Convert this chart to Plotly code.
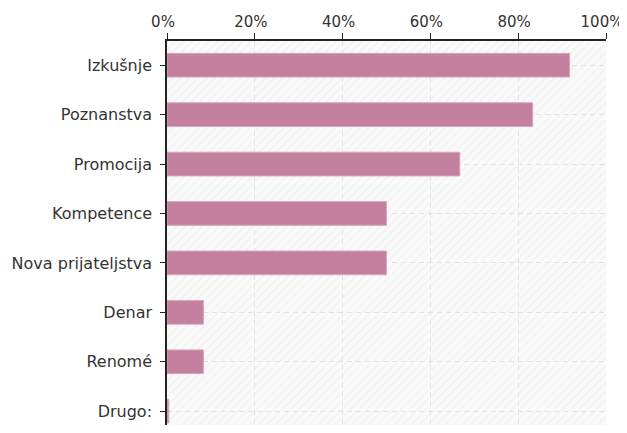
import plotly.graph_objects as go

categories = ["Izkušnje", "Poznanstva", "Promocija", "Kompetence",
              "Nova prijateljstva", "Denar", "Renomé", "Drugo:"]
values = [91.7, 83.3, 66.7, 50.0, 50.0, 8.3, 8.3, 0.4]
x_ticks = [0, 20, 40, 60, 80, 100]
x_tick_labels = ["0%", "20%", "40%", "60%", "80%", "100%"]

positions = list(range(len(categories)))

fig = go.Figure()

# hatched plot background
fig.add_trace(go.Bar(
    x=[100], y=[3.5], width=[9], orientation="h",
    marker=dict(color="rgba(0,0,0,0)", line=dict(width=0),
                pattern=dict(shape="/", fgcolor="#ebebeb", bgcolor="rgba(0,0,0,0)",
                             size=6, solidity=0.3)),
    hoverinfo="skip", showlegend=False,
))

fig.add_trace(go.Bar(
    x=values, y=positions, orientation="h", width=0.48,
    marker=dict(color="#C4819F", line=dict(color="#D9A6BD", width=1)),
    showlegend=False,
))

# page body has an 8px default margin, compensate (keep page inside the viewport)
fig.update_layout(
    width=619, height=417,
    margin=dict(l=159, r=21, t=33, b=0, autoexpand=False),
    barmode="overlay",
    paper_bgcolor="white",
    plot_bgcolor="#fafafa",
    font=dict(family="DejaVu Sans, Verdana, sans-serif", size=16, color="#333333"),
)

fig.update_xaxes(
    side="top", range=[0, 100], tickvals=x_ticks, ticktext=x_tick_labels,
    showline=True, linecolor="#222222", linewidth=1.5,
    ticks="outside", ticklen=6, tickcolor="#222222",
    showgrid=True, gridcolor="#e0e0e0", griddash="5px,4px", gridwidth=1,
    zeroline=False, fixedrange=True, automargin=False,
    ticklabeloverflow="allow", ticklabelshift=-4,
    tickfont=dict(size=15),
)
fig.update_yaxes(
    range=[7.28, -0.49], tickvals=positions, ticktext=categories,
    showline=True, linecolor="#222222", linewidth=1.5,
    ticks="outside", ticklen=5, tickcolor="#222222",
    showgrid=True, gridcolor="#e0e0e0", griddash="5px,4px", gridwidth=1,
    zeroline=False, fixedrange=True, automargin=False,
    ticklabelstandoff=5,
)

fig.write_html("out.html")
